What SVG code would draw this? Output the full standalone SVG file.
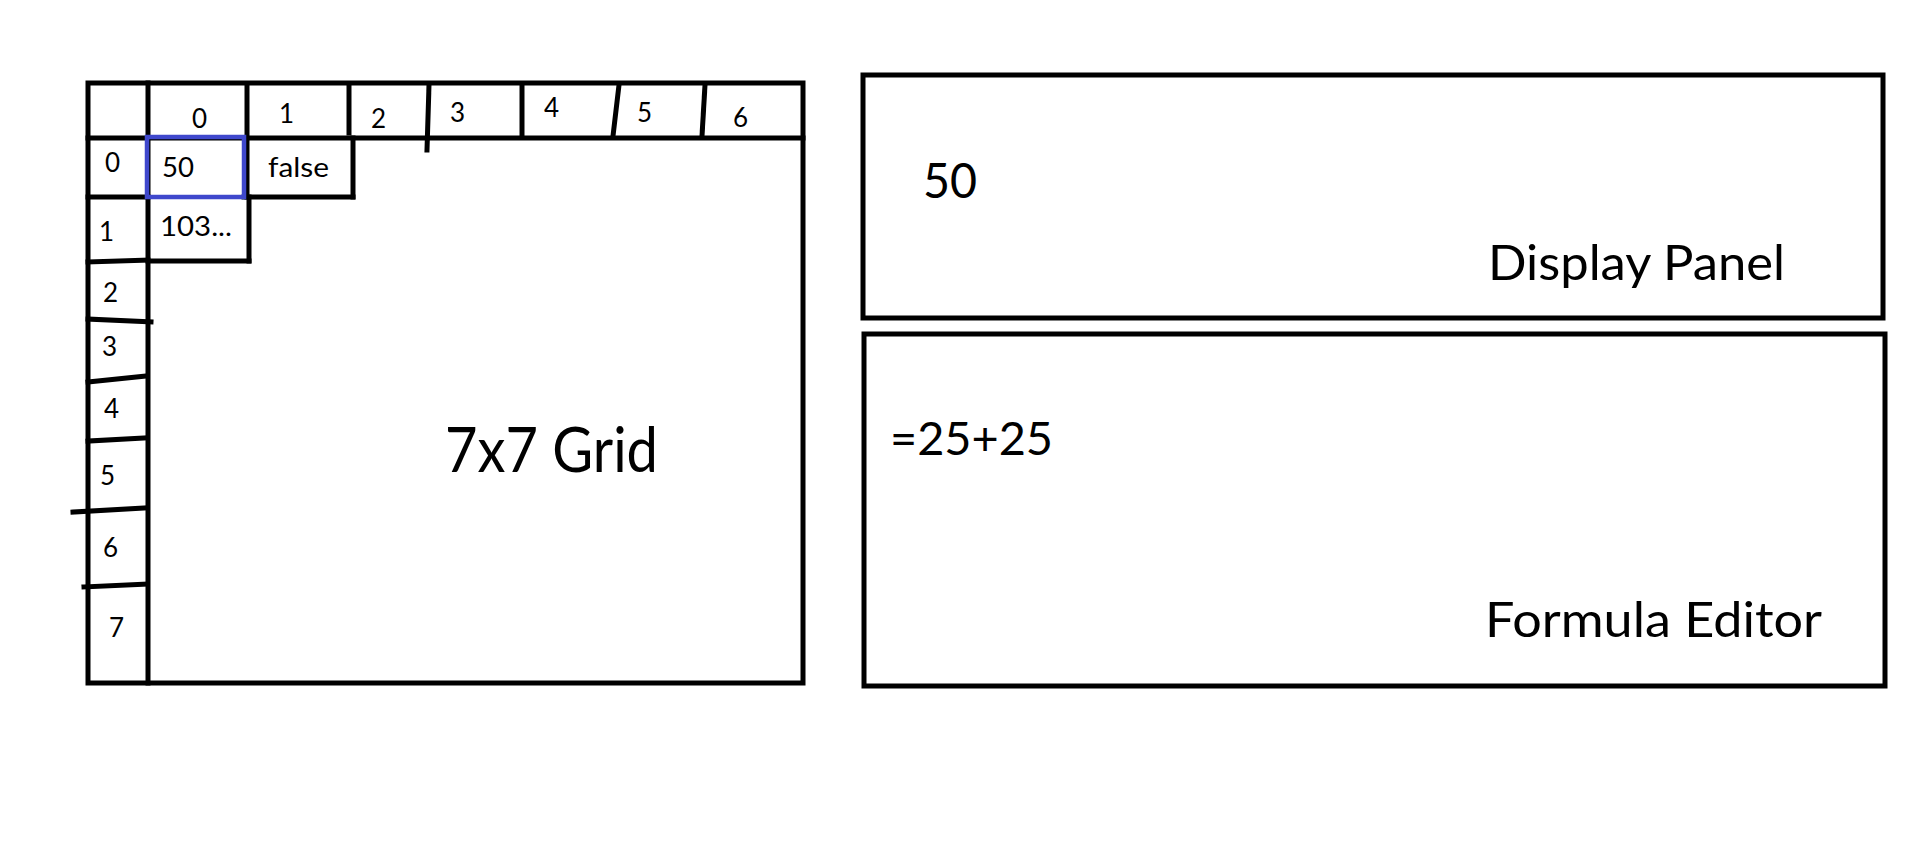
<svg xmlns="http://www.w3.org/2000/svg" width="1914" height="868" viewBox="0 0 1914 868">
<style>
.ln{stroke:#000;stroke-width:5;fill:none;stroke-linecap:square}
.box{stroke:#000;stroke-width:5;fill:none}
.sel{stroke:#3f48cc;stroke-width:4.5;fill:none}
.t{font-family:Lato,"Open Sans","Liberation Sans",sans-serif;fill:#000}
.s{font-size:26px}
.c{font-size:27px}
.big{font-size:49px}
</style>
<rect width="1914" height="868" fill="#fff"/>
<g id="grid">
  <rect x="88" y="83" width="715" height="600" class="box"/>
  <line x1="148" y1="83" x2="148" y2="683" class="ln"/>
  <line x1="88" y1="138" x2="803" y2="138" class="ln"/>
  <line x1="247" y1="86" x2="247" y2="197" class="ln"/>
  <line x1="249" y1="197" x2="249" y2="261" class="ln"/>
  <line x1="349" y1="87" x2="349" y2="133" class="ln"/>
  <line x1="353" y1="138" x2="353" y2="197" class="ln"/>
  <line x1="429" y1="85" x2="427" y2="150" class="ln"/>
  <line x1="522" y1="87" x2="522" y2="136" class="ln"/>
  <line x1="619" y1="85" x2="613" y2="136" class="ln"/>
  <line x1="705" y1="85" x2="702" y2="136" class="ln"/>
  <line x1="88" y1="197" x2="148" y2="197" class="ln"/>
  <line x1="244" y1="197" x2="353" y2="197" class="ln"/>
  <line x1="88" y1="262" x2="148" y2="260" class="ln"/>
  <line x1="148" y1="261" x2="249" y2="261" class="ln"/>
  <line x1="88" y1="319" x2="151" y2="322" class="ln"/>
  <line x1="88" y1="382" x2="146" y2="376" class="ln"/>
  <line x1="88" y1="441" x2="146" y2="438" class="ln"/>
  <line x1="73" y1="512" x2="146" y2="508" class="ln"/>
  <line x1="84" y1="587" x2="146" y2="584" class="ln"/>
  <rect x="147" y="137" width="97" height="60" class="sel"/>
  <text class="t s" x="192" y="128">0</text>
  <text class="t s" x="279" y="123">1</text>
  <text class="t s" x="371" y="128">2</text>
  <text class="t s" x="450" y="122">3</text>
  <text class="t s" x="544" y="117">4</text>
  <text class="t s" x="637" y="122">5</text>
  <text class="t s" x="733" y="127">6</text>
  <text class="t s" x="105" y="172">0</text>
  <text class="t s" x="99" y="241">1</text>
  <text class="t s" x="103" y="302">2</text>
  <text class="t s" x="102" y="356">3</text>
  <text class="t s" x="104" y="418">4</text>
  <text class="t s" x="100" y="485">5</text>
  <text class="t s" x="103" y="557">6</text>
  <text class="t s" x="109" y="637">7</text>
  <text class="t c" x="162" y="177" textLength="32" lengthAdjust="spacingAndGlyphs">50</text>
  <text class="t c" x="268" y="177" textLength="61" lengthAdjust="spacingAndGlyphs">false</text>
  <text class="t c" x="160" y="236" textLength="72" lengthAdjust="spacingAndGlyphs">103...</text>
  <text class="t" style="font-size:61px" x="445" y="472" textLength="213" lengthAdjust="spacingAndGlyphs">7x7 Grid</text>
</g>
<g id="display-panel">
  <rect x="863" y="75" width="1020" height="243" class="box"/>
  <text class="t big" x="923" y="198" textLength="54" lengthAdjust="spacingAndGlyphs">50</text>
  <text class="t big" x="1488" y="280" textLength="297" lengthAdjust="spacingAndGlyphs">Display Panel</text>
</g>
<g id="formula-editor">
  <rect x="864" y="334" width="1021" height="352" class="box"/>
  <text class="t" style="font-size:46px" x="890" y="455" textLength="163" lengthAdjust="spacingAndGlyphs">=25+25</text>
  <text class="t" style="font-size:48px" x="1485" y="637" textLength="337" lengthAdjust="spacingAndGlyphs">Formula Editor</text>
</g>
<g id="connectors"></g>
</svg>
